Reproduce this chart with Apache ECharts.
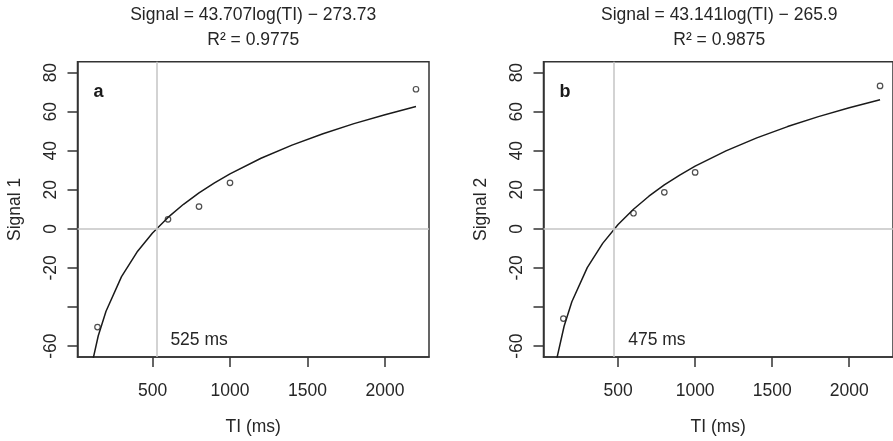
<!DOCTYPE html>
<html>
<head>
<meta charset="utf-8">
<script src="https://cdn.jsdelivr.net/npm/echarts@6/dist/echarts.min.js"></script>
<style>
html, body { margin: 0; padding: 0; background: #fff; }
#main { width: 893px; height: 441px; }
</style>
</head>
<body>
<div id="main"></div>
<script>
'use strict';

// measured points, TI in ms
var tiPoints = [145, 600, 800, 1000, 2200];
var signal1 = [-50.3, 4.9, 11.4, 23.6, 71.5];
var signal2 = [-45.9, 8.0, 18.7, 28.9, 73.2];

// fitted log curves
var fitTI = [100, 150, 200, 300, 400, 500, 600, 700, 800, 900, 1000, 1200, 1400, 1600, 1800, 2000, 2200];
var fit1 = [-72.45, -54.73, -42.16, -24.43, -11.86, -2.11, 5.86, 12.60, 18.43, 23.58, 28.19, 36.16, 42.89, 48.73, 53.88, 58.48, 62.65];
var fit2 = [-67.23, -49.74, -37.33, -19.83, -7.42, 2.21, 10.07, 16.72, 22.48, 27.56, 32.11, 39.97, 46.62, 52.38, 57.47, 62.01, 66.12];

// axes
var xTicks = [500, 1000, 1500, 2000];
var yTicks = [-60, -40, -20, 0, 20, 40, 60, 80];
var yLabels = [-60, -20, 0, 20, 40, 60, 80];

// texts
var equations = ['Signal = 43.707log(TI) \u2212 273.73', 'Signal = 43.141log(TI) \u2212 265.9'];
var rSquared = ['0.9775', '0.9875'];
var crossTI = [525, 475];
var panelTags = ['a', 'b'];
var yNames = ['Signal 1', 'Signal 2'];

var FONT = '"Liberation Sans", Arial, sans-serif';
var INK = '#262626';
var FS = 17.5;

var zip = function(xs, ys){
	var out = [];
	for(var i=0;i<xs.length;i++){
		out.push([xs[i], ys[i]]);
	}
	return out;
};

var plain = function(v){
	return String(v);
};

var grids = [
	{left: 77.5, top: 61.7, width: 351.5, height: 295.6},
	{left: 543.5, top: 61.7, width: 351.5, height: 295.6}
];

var myChart = echarts.init(document.getElementById('main'));

var option = {
	animation: false,
	backgroundColor: '#fff',
	textStyle: {fontFamily: FONT},
	grid: [],
	xAxis: [],
	yAxis: [],
	series: []
};

var fits = [fit1, fit2];
var points = [signal1, signal2];

for(var k=0;k<2;k++){
	var g = grids[k];
	option.grid.push({
		left: g.left, top: g.top, width: g.width, height: g.height,
		show: true, borderColor: '#333', borderWidth: 1.5,
		backgroundColor: 'transparent', containLabel: false
	});
	option.xAxis.push({
		type: 'value', gridIndex: k, min: 16, max: 2284,
		name: 'TI (ms)', nameLocation: 'middle', nameGap: 61,
		nameTextStyle: {color: INK, fontSize: FS, fontFamily: FONT},
		axisLine: {show: true, onZero: false, lineStyle: {color: '#333', width: 1.5}},
		axisTick: {show: true, length: 10, customValues: xTicks, lineStyle: {color: '#333', width: 1.5}},
		axisLabel: {show: true, margin: 25, customValues: xTicks, formatter: plain, color: INK, fontSize: FS, fontFamily: FONT},
		splitLine: {show: false}
	});
	option.yAxis.push({
		type: 'value', gridIndex: k, min: -65.6, max: 85.6,
		name: yNames[k], nameLocation: 'middle', nameGap: 53, nameRotate: 90,
		nameTextStyle: {color: INK, fontSize: FS, fontFamily: FONT},
		axisLine: {show: true, onZero: false, lineStyle: {color: '#333', width: 1.5}},
		axisTick: {show: true, length: 10, customValues: yTicks, lineStyle: {color: '#333', width: 1.5}},
		axisLabel: {show: true, rotate: 90, margin: 17, customValues: yLabels, formatter: plain, color: INK, fontSize: FS, fontFamily: FONT},
		splitLine: {show: false}
	});
	//参考线
	option.series.push({
		type: 'line', xAxisIndex: k, yAxisIndex: k, data: [], z: 1,
		markLine: {
			silent: true, symbol: 'none', animation: false,
			label: {show: false},
			lineStyle: {color: '#c4c4c4', width: 1.5, type: 'solid'},
			data: [{xAxis: crossTI[k]}, {yAxis: 0}]
		}
	});
	//拟合曲线
	option.series.push({
		type: 'line', xAxisIndex: k, yAxisIndex: k, z: 3,
		data: zip(fitTI, fits[k]), showSymbol: false, clip: true, smooth: false,
		lineStyle: {color: '#1a1a1a', width: 1.5}
	});
	//测量点
	option.series.push({
		type: 'scatter', xAxisIndex: k, yAxisIndex: k, z: 4,
		data: zip(tiPoints, points[k]), symbol: 'circle', symbolSize: 5.5,
		itemStyle: {color: 'rgba(0,0,0,0)', borderColor: '#222', borderWidth: 1.2}
	});
}

myChart.setOption(option);

// 文本标注 (y = baseline - 5.25 for middle alignment)
var graphics = [];
for(var j=0;j<2;j++){
	var gr = grids[j];
	var cx = gr.left + gr.width / 2;
	graphics.push({
		type: 'text', x: cx, y: 14.75,
		style: {text: equations[j], fill: INK, font: FS + 'px ' + FONT, align: 'center', verticalAlign: 'middle'}
	});
	graphics.push({
		type: 'text', x: cx, y: 39.75,
		style: {text: 'R\u00b2 = ' + rSquared[j], fill: INK, font: FS + 'px ' + FONT, align: 'center', verticalAlign: 'middle'}
	});
	graphics.push({
		type: 'text', x: gr.left + 16, y: 92.5,
		style: {text: panelTags[j], fill: '#1a1a1a', font: 'bold 18px ' + FONT, align: 'left', verticalAlign: 'middle'}
	});
	var px = myChart.convertToPixel({gridIndex: j}, [crossTI[j], 0]);
	graphics.push({
		type: 'text', x: px[0] + 14, y: 339.75,
		style: {text: crossTI[j] + ' ms', fill: INK, font: FS + 'px ' + FONT, align: 'left', verticalAlign: 'middle'}
	});
}
myChart.setOption({graphic: graphics});
</script>
</body>
</html>
